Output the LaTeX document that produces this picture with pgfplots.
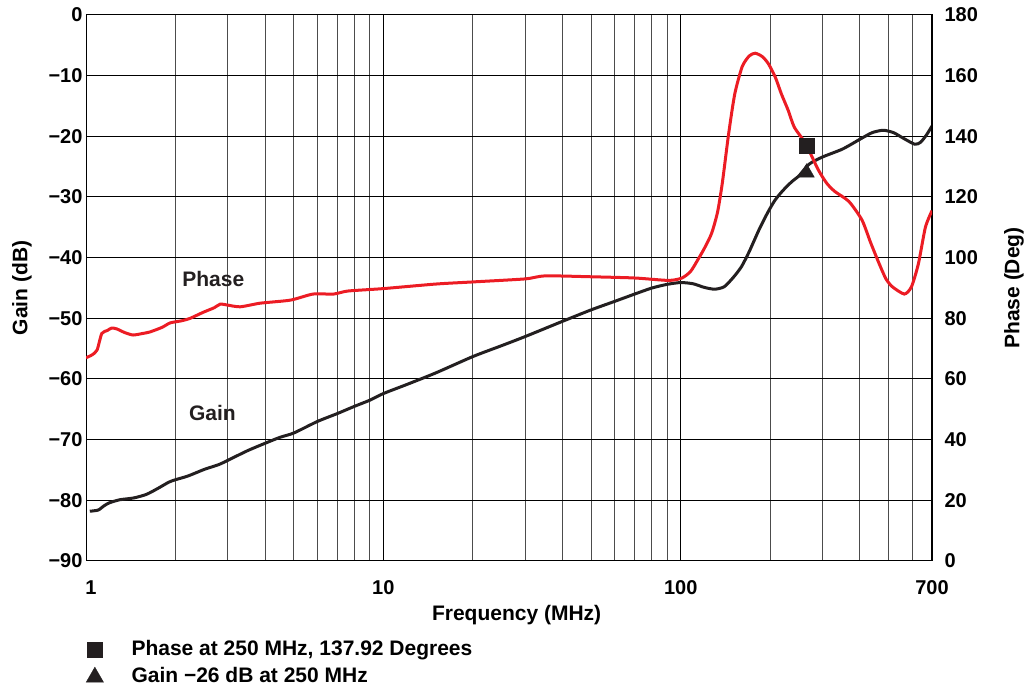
\documentclass[border=0pt]{standalone}
\usepackage{fontspec}
\setmainfont{Liberation Sans}
\usepackage{pgfplots}
\pgfplotsset{compat=1.18}
\usepackage{pgfplotstable}
\definecolor{phasered}{RGB}{236,28,36}
\definecolor{gainblk}{RGB}{35,31,32}

\pgfplotstableread{
f g
1.03 -81.8
1.1 -81.6
1.15 -80.9
1.2 -80.4
1.3 -79.9
1.45 -79.6
1.6 -79.0
1.75 -78.0
1.9 -77.0
2.0 -76.6
2.2 -76.0
2.5 -74.9
2.8 -74.1
3.0 -73.4
3.5 -71.8
4.0 -70.6
4.5 -69.6
5.0 -68.9
6.0 -67.0
7.0 -65.7
8.0 -64.5
9.0 -63.5
10 -62.4
12 -60.9
15 -59.0
20 -56.3
25 -54.5
30 -53.0
40 -50.5
50 -48.6
60 -47.2
70 -46.0
80 -45.0
90 -44.4
100 -44.1
110 -44.3
120 -44.9
130 -45.2
140 -44.8
150 -43.3
160 -41.5
170 -39.0
183 -35.5
195 -32.8
207 -30.6
220 -29.0
236 -27.5
250 -26.5
270 -24.6
300 -23.4
350 -22.1
400 -20.5
440 -19.4
480 -19.0
520 -19.4
560 -20.3
612 -21.3
640 -21.0
670 -19.8
700 -18.3
}\gaindata

\pgfplotstableread{
f p
1.0 67.0
1.05 68.0
1.09 69.6
1.13 75
1.18 76
1.22 76.8
1.27 76.5
1.35 75.3
1.44 74.5
1.55 75.0
1.64 75.5
1.8 77
1.92 78.5
2.1 79.2
2.24 80
2.48 82
2.7 83.5
2.83 84.7
2.98 84.4
3.3 83.8
3.86 85
4.87 86
5.8 88
6.8 88
7.6 89
10 89.8
15 91.3
20 92
30 93
35 94
50 93.7
70 93.3
91 92.5
101 93.3
108 95.5
114 99.2
120 103
127 108
133 115
138 124.6
145 141
152 154
161 163
170 166.5
178 167.4
188 166.3
197 164
208 159.5
218 154
230 148.5
241 143
263 137.6
290 129
310 124.5
330 121.8
368 118.5
407 112.4
435 105
465 98
490 93
515 90.4
565 88
597 90.4
630 98
665 110
700 115.5
}\phasedata

\pgfplotsset{
  legend image code/.code={\draw[mark repeat=2,mark phase=2,#1] plot coordinates {(0pt,0pt)(9pt,0pt)(18pt,0pt)};},
}

\begin{document}
\begin{tikzpicture}
\useasboundingbox (0,0) rectangle (1031pt,690pt);

\begin{axis}[
  scale only axis, width=846pt, height=546pt,
  at={(86pt,129pt)}, anchor=south west,
  xmode=log, xmin=1, xmax=700,
  major tick length=0pt, minor tick length=0pt,
  tick style={draw=none},
  tick label style={font=\fontsize{20}{24}\selectfont\bfseries},
  label style={font=\fontsize{21}{25}\selectfont\bfseries},
  axis line style={line width=1pt},
  ymin=-90, ymax=0,
  ytick={-90,-80,-70,-60,-50,-40,-30,-20,-10,0},
  yticklabels={−90,−80,−70,−60,−50,−40,−30,−20,−10,0},
  ytick pos=left, yticklabel pos=left,
  xtick={1,10,100,700},
  xticklabels={\hspace*{10pt}1,10,100,700},
  xtick pos=bottom,
  xticklabel style={yshift=-16pt},
  minor xtick={2,3,4,5,6,7,8,9,20,30,40,50,60,70,80,90,200,300,400,500,600},
  xmajorgrids, xminorgrids, ymajorgrids,
  major grid style={black, line width=1pt},
  minor grid style={black!70, line width=1pt},
  xlabel={Frequency (MHz)},
  xlabel style={at={(axis description cs:0.509,-0.0985)}, anchor=center},
  ylabel={Gain (dB)},
  ylabel style={at={(axis description cs:-0.0757,0.5)}, anchor=center},
]
\addplot[gainblk, line width=3pt, smooth, tension=0.4] table[x=f, y=g] {\gaindata};
\addplot[only marks, mark=triangle*, mark size=9pt, gainblk] coordinates {(265,-26)};
\node[font=\fontsize{21}{25}\selectfont\bfseries, gainblk] at (axis cs:2.68,-43.5) {Phase};
\node[font=\fontsize{21}{25}\selectfont\bfseries, gainblk] at (axis cs:2.66,-65.6) {Gain};
\end{axis}

\begin{axis}[
  scale only axis, width=846pt, height=546pt,
  at={(86pt,129pt)}, anchor=south west,
  xmode=log, xmin=1, xmax=700,
  major tick length=0pt, minor tick length=0pt,
  tick style={draw=none},
  tick label style={font=\fontsize{20}{24}\selectfont\bfseries},
  label style={font=\fontsize{21}{25}\selectfont\bfseries},
  axis x line=none, axis y line*=right,
  y axis line style={line width=1.6pt},
  ymin=0, ymax=180,
  ytick={0,20,40,60,80,100,120,140,160,180},
  yticklabels={0,20,40,60,80,100,120,140,160,180},
  yticklabel style={xshift=9pt},
  ylabel={Phase (Deg)},
  ylabel style={at={(axis description cs:1.097,0.5)}, anchor=center},
  legend style={draw=none, fill=none, inner sep=0pt,
    at={(axis description cs:0,-0.1447)}, anchor=north west,
    font=\fontsize{21}{25}\selectfont\bfseries,
    nodes={inner sep=0pt, text height=15pt, text depth=4.5pt},
    column sep=28pt, row sep=7.5pt},
  legend cell align=left,
]
\addplot[phasered, line width=3pt, smooth, tension=0.4, forget plot] table[x=f, y=p] {\phasedata};
\addplot[only marks, mark=square*, mark size=7.3pt, gainblk] coordinates {(265,137)};
\addlegendentry{Phase at 250 MHz, 137.92 Degrees}
\addlegendimage{only marks, mark=triangle*, mark size=10pt, gainblk}
\addlegendentry{Gain −26 dB at 250 MHz}
\end{axis}
\end{tikzpicture}
\end{document}
